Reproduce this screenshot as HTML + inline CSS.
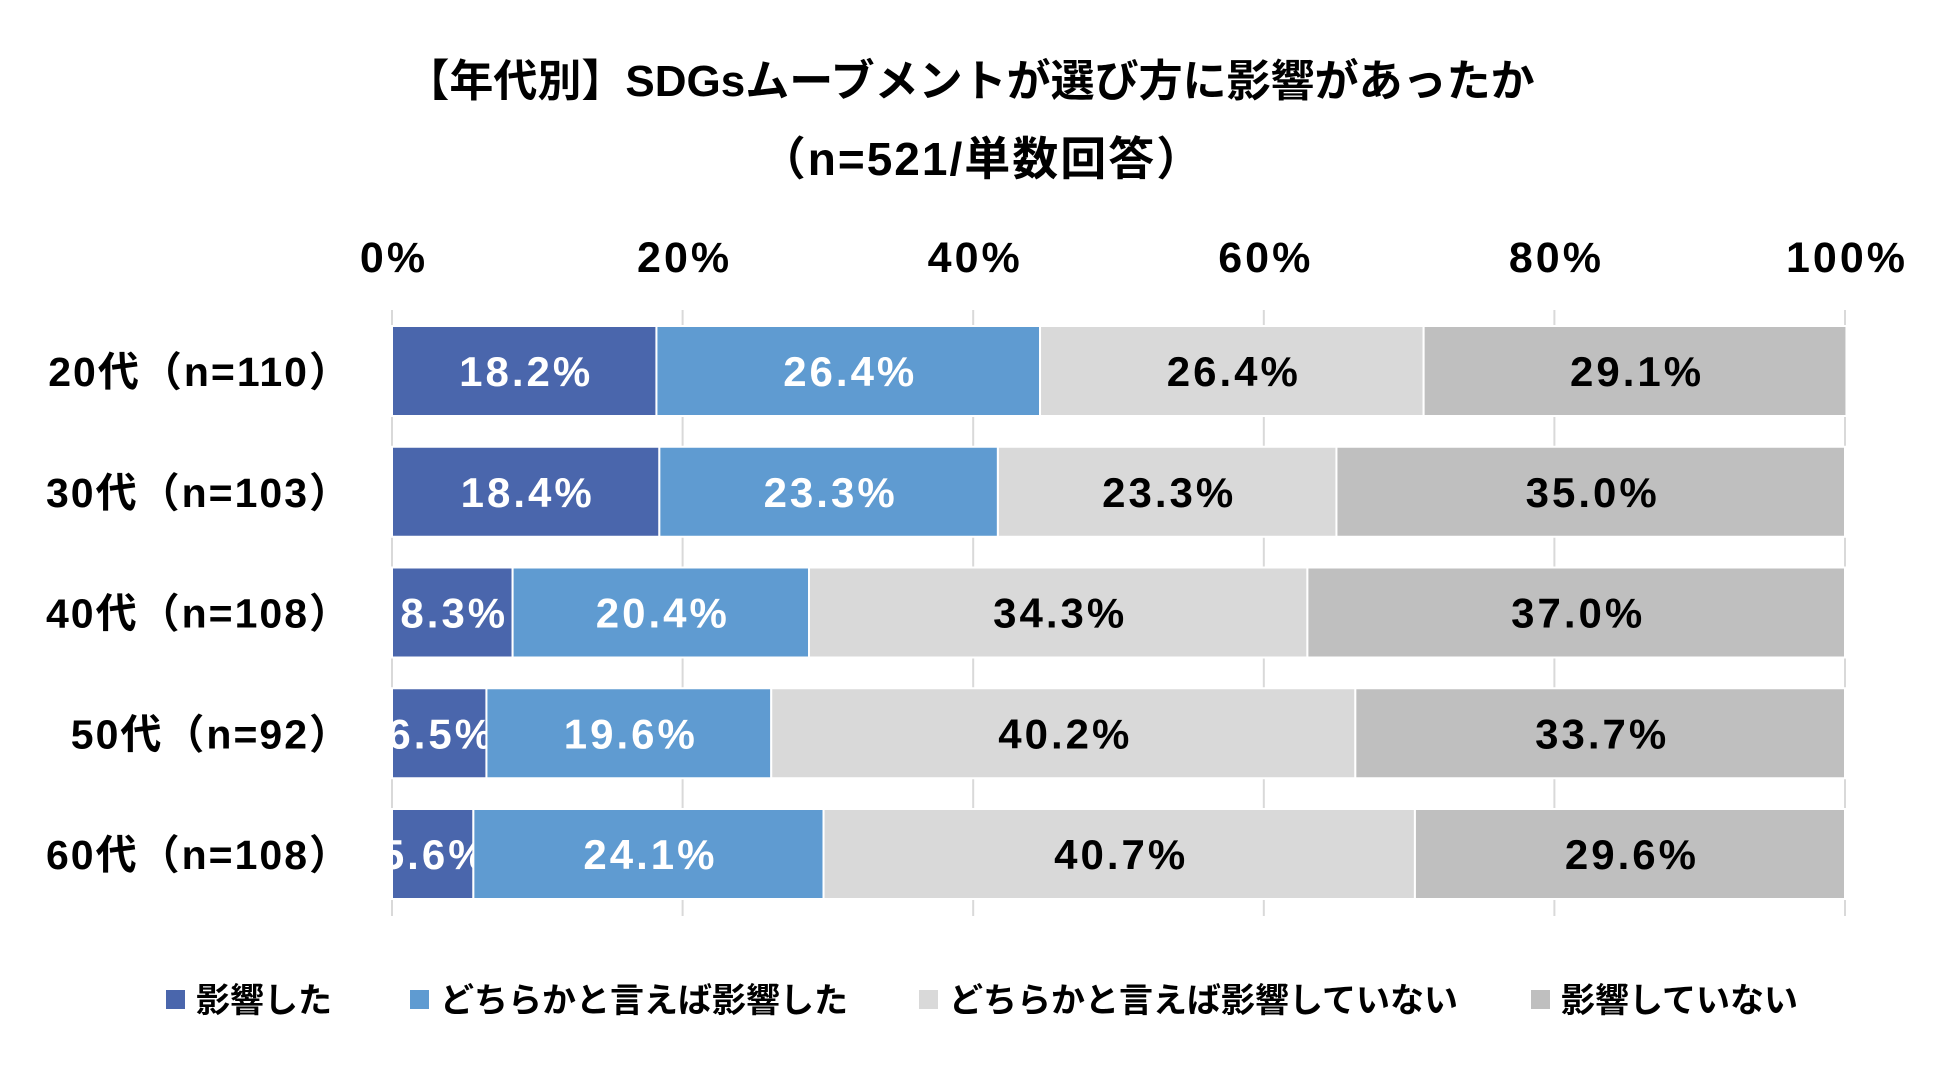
<!DOCTYPE html>
<html><head><meta charset="utf-8"><style>
body{margin:0;background:#fff;width:1950px;height:1062px;overflow:hidden;font-family:"Liberation Sans","Noto Sans CJK JP",sans-serif;font-weight:bold}
svg text{font-family:"Liberation Sans","Noto Sans CJK JP",sans-serif;font-weight:bold}
</style></head><body>
<svg id="chart" width="1950" height="1062" xmlns="http://www.w3.org/2000/svg">
<text x="970" y="96" text-anchor="middle" font-size="44">【年代別】SDGsムーブメントが選び方に影響があったか</text>
<text x="982" y="175" text-anchor="middle" font-size="46" letter-spacing="2">（n=521/単数回答）</text>
<g id="grid"></g><g id="bars"></g><g id="legend"></g>
</svg>
<script>
const categories=["20代（n=110）","30代（n=103）","40代（n=108）","50代（n=92）","60代（n=108）"];
const seriesNames=["影響した","どちらかと言えば影響した","どちらかと言えば影響していない","影響していない"];
const s1=[18.2,18.4,8.3,6.5,5.6];
const s2=[26.4,23.3,20.4,19.6,24.1];
const s3=[26.4,23.3,34.3,40.2,40.7];
const s4=[29.1,35.0,37.0,33.7,29.6];
const ticks=[0,20,40,60,80,100];
const series=[s1,s2,s3,s4];
const colors=["#4a66ac","#5f9bd1","#d9d9d9","#bfbfbf"];
const textColors=["#fff","#fff","#000","#000"];
const NS="http://www.w3.org/2000/svg";
const x0=392,x1=1845,yTop=326,pitch=120.75,bh=90;
const xs=v=>x0+(x1-x0)*v/100;
const yc=i=>yTop+i*pitch;
function mk(t,a,p){const e=document.createElementNS(NS,t);for(const k in a)e.setAttribute(k,a[k]);p.appendChild(e);return e;}
const grid=document.getElementById('grid');
ticks.forEach(t=>{
 const l=mk('line',{x1:xs(t),x2:xs(t),y1:310,y2:916,stroke:'#d9d9d9','stroke-width':2},grid);
 
 
 const tx=mk('text',{x:xs(t)+2,y:272,'text-anchor':'middle','font-size':43,'letter-spacing':3},grid);
 tx.textContent=t+'%';
 
 
});
const bars=document.getElementById('bars');
categories.forEach((c,i)=>{
 const lb=mk('text',{x:352,y:yc(i)+bh/2+15,'text-anchor':'end','font-size':41,'letter-spacing':2},bars);
 lb.textContent=c;
 
 
 let cum=0;
 series.forEach((s,k)=>{
  const v=s[i];
  const r=mk('rect',{x:xs(cum),y:yc(i),width:xs(cum+v)-xs(cum),height:bh,fill:colors[k],stroke:'#fff','stroke-width':2},bars);
  
  
  const t=mk('text',{x:(xs(cum)+xs(cum+v))/2+2,y:yc(i)+bh/2+15,'text-anchor':'middle','font-size':42,'letter-spacing':3,fill:textColors[k]},bars);
  t.textContent=v.toFixed(1)+'%';
  
  
  cum+=v;
 });
});
const lg=document.getElementById('legend');
const lx=[166,410,919,1531];
seriesNames.forEach((n,k)=>{
 const r=mk('rect',{x:lx[k],y:990,width:19,height:19,fill:colors[k]},lg);
 
 
 const t=mk('text',{x:lx[k]+30,y:1012,'font-size':34},lg);
 t.textContent=n;
 
 
});
</script>
</body></html>
